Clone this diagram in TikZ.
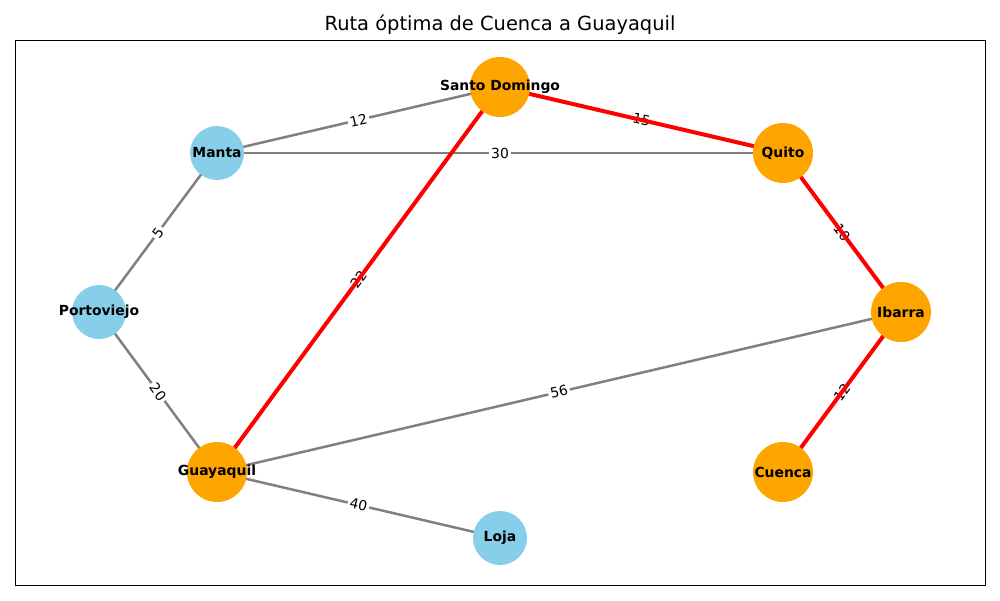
\documentclass[tikz,border=0pt]{standalone}
\usepackage{fontspec}
\setmainfont{DejaVu Sans}
\definecolor{skyb}{HTML}{87CEEB}
\definecolor{orng}{HTML}{FFA500}
\definecolor{grayedge}{HTML}{808080}
\begin{document}
\begin{tikzpicture}[x=0.72pt,y=-0.72pt,
  city/.style={circle,inner sep=0pt,minimum size=54*0.72pt,fill=skyb},
  pcity/.style={circle,inner sep=0pt,minimum size=60*0.72pt,fill=orng},
  lbl/.style={font=\fontsize{10}{12}\selectfont\bfseries},
  gedge/.style={draw=grayedge,line width=2.5*0.72pt},
  redge/.style={draw=red,line width=4*0.72pt},
  elbl/.style={midway,sloped,fill=white,inner sep=1.5pt,rounded corners=2pt,font=\fontsize{10}{12}\selectfont}]
\useasboundingbox (0,0) rectangle (1000,600);
\node[font=\fontsize{14}{16}\selectfont] (title) at (500,25) {Ruta óptima de Cuenca a Guayaquil};
\draw[line width=0.8*0.72pt] (15,40) rectangle (985,585);
% node coordinates
\coordinate (SD) at (500,87);
\coordinate (MA) at (217,153);
\coordinate (QU) at (783,153);
\coordinate (PO) at (99,312);
\coordinate (IB) at (901,312);
\coordinate (GU) at (217,472);
\coordinate (CU) at (783,472);
\coordinate (LO) at (500,538);
% gray edges
\path[gedge] (MA) -- (SD);
\path[gedge] (MA) -- (QU);
\path[gedge] (MA) -- (PO);
\path[gedge] (PO) -- (GU);
\path[gedge] (GU) -- (IB);
\path[gedge] (GU) -- (LO);
% labels
\path (MA) -- (SD) node[elbl] (l1) {12};
\path (MA) -- (QU) node[elbl] (l2) {30};
\path (SD) -- (QU) node[elbl] (l3) {15};
\path (MA) -- (PO) node[elbl] (l4) {5};
\path (SD) -- (GU) node[elbl] (l5) {22};
\path (QU) -- (IB) node[elbl] (l6) {10};
\path (PO) -- (GU) node[elbl] (l7) {20};
\path (GU) -- (IB) node[elbl] (l8) {56};
\path (IB) -- (CU) node[elbl] (l9) {12};
\path (GU) -- (LO) node[elbl] (l10) {40};
% red path edges
\path[redge] (SD) -- (QU);
\path[redge] (SD) -- (GU);
\path[redge] (QU) -- (IB);
\path[redge] (IB) -- (CU);
% nodes
\node[pcity] (nSD) at (SD) {};
\node[city] (nMA) at (MA) {};
\node[pcity] (nQU) at (QU) {};
\node[city] (nPO) at (PO) {};
\node[pcity] (nIB) at (IB) {};
\node[pcity] (nGU) at (GU) {};
\node[pcity] (nCU) at (CU) {};
\node[city] (nLO) at (LO) {};
% node labels
\node[lbl] (tSD) at (SD) {Santo Domingo};
\node[lbl] (tMA) at (MA) {Manta};
\node[lbl] (tQU) at (QU) {Quito};
\node[lbl] (tPO) at (PO) {Portoviejo};
\node[lbl] (tIB) at (IB) {Ibarra};
\node[lbl] (tGU) at (GU) {Guayaquil};
\node[lbl] (tCU) at (CU) {Cuenca};
\node[lbl] (tLO) at (LO) {Loja};
\end{tikzpicture}
\end{document}
